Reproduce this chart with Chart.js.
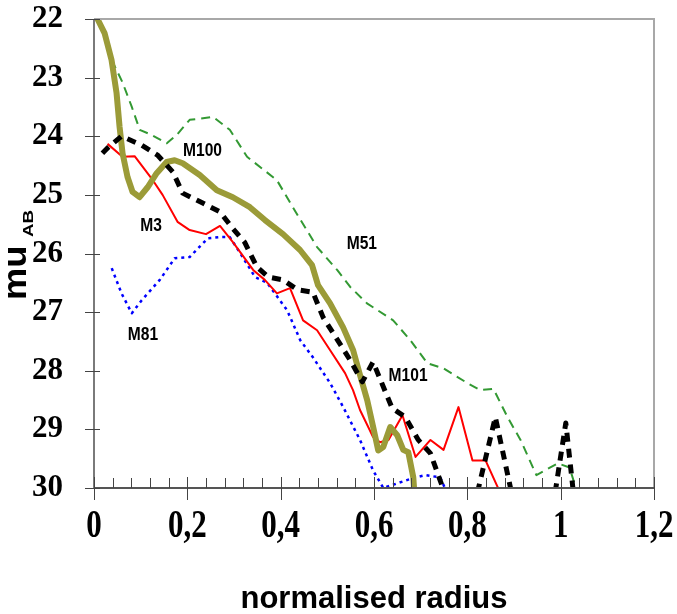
<!DOCTYPE html>
<html><head><meta charset="utf-8">
<script src="https://cdn.jsdelivr.net/npm/chart.js@4"></script>
<style>html,body{margin:0;padding:0;background:#fff}#c{display:block}</style>
</head><body>
<canvas id="c" width="677" height="614"></canvas>
<script>
const xTickLabels = ['0','0,2','0,4','0,6','0,8','1','1,2'];
const yTickLabels = ['22','23','24','25','26','27','28','29','30'];

const m101X = [0.018,0.029,0.059,0.102,0.136,0.169,0.190,0.233,0.270,0.295,0.323,0.349,0.373,0.405,0.437,0.469,0.491,0.519,0.549,0.575,0.598,0.639,0.667,0.695,0.721,0.753,0.809,0.860,0.906,0.980,1.011,1.033];
const m101Y = [24.29,24.20,24.00,24.15,24.32,24.61,24.97,25.14,25.29,25.55,25.81,26.23,26.40,26.45,26.62,26.66,27.09,27.44,27.82,28.19,27.85,28.64,28.79,29.18,29.41,30.12,30.5,28.79,30.5,30.5,28.89,30.5];

const m100X = [0.0075,0.0226,0.0376,0.0483,0.0548,0.0612,0.072,0.0827,0.0977,0.1149,0.1343,0.1557,0.1729,0.1901,0.2266,0.2632,0.2975,0.334,0.3663,0.405,0.4415,0.4672,0.48,0.5059,0.5338,0.5553,0.5703,0.5854,0.5983,0.609,0.6198,0.6348,0.6498,0.6627,0.6735,0.6842,0.6864];
const m100Y = [22.0,22.24,22.70,23.26,23.84,24.29,24.70,24.95,25.04,24.87,24.63,24.44,24.41,24.46,24.66,24.92,25.04,25.21,25.43,25.67,25.94,26.20,26.54,26.85,27.26,27.65,28.08,28.50,28.96,29.36,29.30,28.96,29.10,29.35,29.39,29.82,30.07];

const m3X = [0.029,0.061,0.087,0.126,0.147,0.179,0.205,0.240,0.270,0.298,0.341,0.366,0.392,0.420,0.448,0.478,0.506,0.538,0.555,0.570,0.598,0.613,0.631,0.661,0.689,0.721,0.749,0.781,0.811,0.839,0.871];
const m3Y = [24.13,24.35,24.34,24.75,25.00,25.46,25.60,25.67,25.53,25.81,26.28,26.45,26.68,26.59,27.14,27.31,27.65,28.04,28.33,28.67,29.13,29.22,29.18,28.76,29.47,29.18,29.35,28.62,29.53,29.53,30.09];

const m81X = [0.038,0.059,0.081,0.102,0.141,0.173,0.205,0.244,0.270,0.291,0.313,0.345,0.371,0.414,0.442,0.469,0.506,0.534,0.570,0.598,0.620,0.650,0.684,0.710,0.742,0.757];
const m81Y = [26.25,26.68,27.02,26.80,26.45,26.08,26.06,25.74,25.72,25.72,25.99,26.40,26.50,26.97,27.48,27.77,28.21,28.62,29.18,29.70,30.00,29.92,29.83,29.78,29.82,30.09];

const m51X = [0.038,0.061,0.081,0.098,0.124,0.156,0.177,0.205,0.255,0.291,0.328,0.392,0.426,0.478,0.521,0.549,0.585,0.641,0.678,0.714,0.749,0.800,0.828,0.856,0.886,0.914,0.948,0.994,1.019,1.034];
const m51Y = [22.70,23.08,23.50,23.89,23.98,24.12,23.98,23.72,23.67,23.89,24.35,24.75,25.21,25.89,26.28,26.57,26.85,27.14,27.48,27.87,27.96,28.21,28.33,28.31,28.79,29.18,29.78,29.58,29.65,30.04];

const labelNames = ['M100','M3','M81','M51','M101'];
const labelX = [0.2325,0.1221,0.105,0.574,0.673];
const labelY = [24.24,25.53,27.39,25.84,28.09];

function zip(xs, ys){ return xs.map((x,i)=>({x:x, y:ys[i]})); }

const datasets = [
  {label:'M101', data:zip(m101X,m101Y), borderColor:'#000000', borderWidth:5, borderDash:[9,7]},
  {label:'M100', data:zip(m100X,m100Y), borderColor:'#9b9b38', borderWidth:6},
  {label:'M3',   data:zip(m3X,m3Y),     borderColor:'#ff0000', borderWidth:2},
  {label:'M81',  data:zip(m81X,m81Y),   borderColor:'#0000ff', borderWidth:2.5, borderDash:[3,4]},
  {label:'M51',  data:zip(m51X,m51Y),   borderColor:'#339933', borderWidth:2, borderDash:[9,6]}
].map(d=>Object.assign({fill:false,pointRadius:0,tension:0,borderCapStyle:'butt',borderJoinStyle:'round'},d));

const serifBold = 'bold 31px "Liberation Serif", "Times New Roman", serif';

const framePlugin = {
  id:'frame',
  afterDraw(chart){
    const ctx = chart.ctx, a = chart.chartArea, xs = chart.scales.x, ys = chart.scales.y;
    ctx.save();
    ctx.lineWidth = 2;
    ctx.strokeStyle = '#a8a8a8';
    ctx.beginPath(); ctx.moveTo(a.left, a.top); ctx.lineTo(a.right, a.top); ctx.lineTo(a.right, a.bottom); ctx.stroke();
    ctx.strokeStyle = '#7a7a7a';
    ctx.beginPath(); ctx.moveTo(a.left, a.top); ctx.lineTo(a.left, a.bottom); ctx.stroke();
    ctx.strokeStyle = '#555555';
    ctx.beginPath(); ctx.moveTo(a.left, a.bottom); ctx.lineTo(a.right, a.bottom); ctx.stroke();
    ctx.lineWidth = 1;
    ctx.strokeStyle = '#444444';
    ys.ticks.forEach(t => {
      const y = Math.round(ys.getPixelForValue(t.value)) + 0.5;
      ctx.beginPath(); ctx.moveTo(a.left - 9, y); ctx.lineTo(a.left + 6, y); ctx.stroke();
    });
    xs.ticks.forEach(t => {
      const x = Math.round(xs.getPixelForValue(t.value)) + 0.5;
      ctx.beginPath(); ctx.moveTo(x, a.bottom - 11); ctx.lineTo(x, a.bottom + 12); ctx.stroke();
    });
    for (let i = 1; i < 30; i++) {
      if (i % 5 === 0) continue;
      const x = Math.round(xs.getPixelForValue(i * 0.04)) + 0.5;
      ctx.beginPath(); ctx.moveTo(x, a.bottom - 10); ctx.lineTo(x, a.bottom); ctx.stroke();
    }
    ctx.fillStyle = '#000';
    // x tick labels (tall serif)
    ctx.font = serifBold;
    ctx.textAlign = 'center';
    ctx.textBaseline = 'alphabetic';
    xs.ticks.forEach(t => {
      const x = xs.getPixelForValue(t.value);
      const lbl = xTickLabels[Math.round(t.value / 0.2)];
      ctx.save(); ctx.translate(x, 537); ctx.scale(1, 1.3); ctx.fillText(lbl, 0, 0); ctx.restore();
    });
    // series labels
    ctx.font = 'bold 19px "Liberation Sans", Arial, sans-serif';
    ctx.textBaseline = 'middle';
    labelNames.forEach((n, i) => {
      const px = xs.getPixelForValue(labelX[i]), py = ys.getPixelForValue(labelY[i]);
      ctx.save(); ctx.translate(px, py); ctx.scale(0.82, 1); ctx.fillText(n, 0, 0); ctx.restore();
    });
    // x axis title
    ctx.font = 'bold 31px "Liberation Sans", Arial, sans-serif';
    ctx.textBaseline = 'alphabetic';
    ctx.fillText('normalised radius', (a.left + a.right) / 2, 608);
    // y axis title
    ctx.textAlign = 'left';
    ctx.save(); ctx.translate(26, 300); ctx.rotate(-Math.PI / 2); ctx.scale(1.1, 1);
    ctx.font = 'bold 33px "Liberation Sans", Arial, sans-serif';
    ctx.fillText('mu', 0, 0); ctx.restore();
    ctx.save(); ctx.translate(33, 237); ctx.rotate(-Math.PI / 2); ctx.scale(1.25, 1);
    ctx.font = 'bold 15px "Liberation Sans", Arial, sans-serif';
    ctx.fillText('AB', 0, 0); ctx.restore();
    ctx.restore();
  }
};

const tickFont = {family:'"Liberation Serif", "Times New Roman", serif', size:31, weight:'bold'};

new Chart(document.getElementById('c').getContext('2d'), {
  type:'line',
  data:{datasets:datasets},
  options:{
    responsive:false, animation:false, devicePixelRatio:1,
    layout:{padding:{top:19, right:23, left:0, bottom:0}},
    plugins:{legend:{display:false}, tooltip:{enabled:false}},
    scales:{
      x:{type:'linear', min:0, max:1.2, grid:{display:false}, border:{display:false},
         ticks:{display:false, stepSize:0.2, autoSkip:false},
         afterFit:s=>{ s.height = 126; s.paddingLeft = 0; s.paddingRight = 0; }},
      y:{type:'linear', reverse:true, min:22, max:30, grid:{display:false}, border:{display:false},
         ticks:{stepSize:1, font:tickFont, color:'#000', padding:23, autoSkip:false,
                callback:(v)=>yTickLabels[Math.round(v - 22)]},
         afterFit:s=>{ s.width = 94; s.paddingTop = 0; s.paddingBottom = 0; }}
    }
  },
  plugins:[framePlugin]
});
</script>
</body></html>
